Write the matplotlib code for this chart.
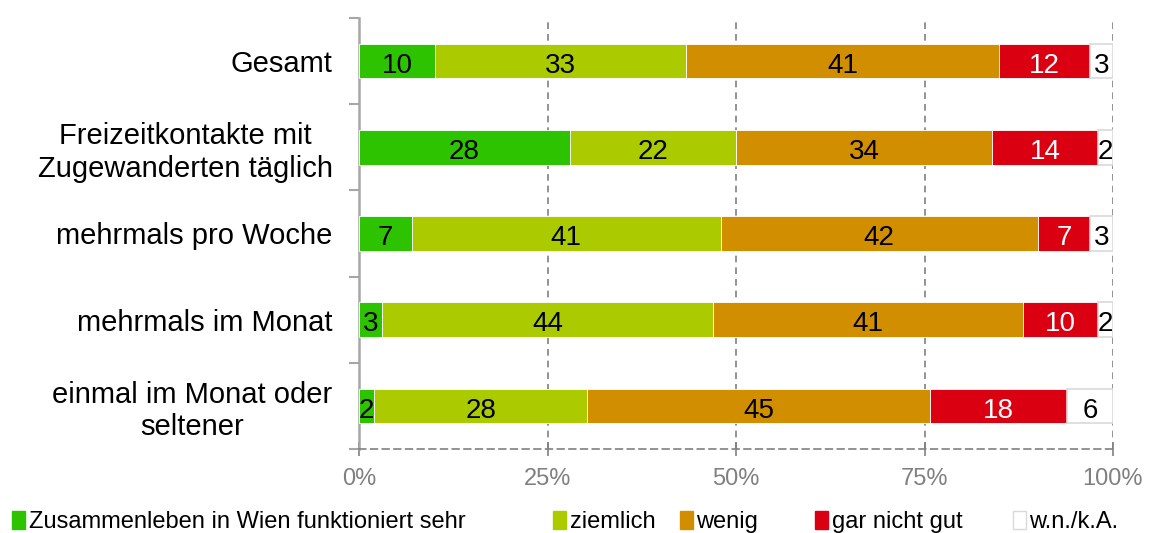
import matplotlib
matplotlib.use("Agg")
import matplotlib.pyplot as plt
from matplotlib.patches import Patch
from matplotlib.legend import Legend
import numpy as np

plt.rcParams['font.family'] = ['Liberation Sans', 'DejaVu Sans']

categories = ["Gesamt", "Freizeitkontakte mit\nZugewanderten täglich", "mehrmals pro Woche",
              "mehrmals im Monat", "einmal im Monat oder\nseltener"]
series_names = ["Zusammenleben in Wien funktioniert sehr", "ziemlich", "wenig", "gar nicht gut", "w.n./k.A."]
sehr = [10, 28, 7, 3, 2]
ziemlich = [33, 22, 41, 44, 28]
wenig = [41, 34, 42, 41, 45]
gar_nicht = [12, 14, 7, 10, 18]
wnka = [3, 2, 3, 2, 6]
xticklabels = ["0%", "25%", "50%", "75%", "100%"]

colors = ["#2DC300", "#ABCB00", "#D18F00", "#DB0011", "#FFFFFF"]
text_colors = ["black", "black", "black", "white", "black"]

data = np.array([sehr, ziemlich, wenig, gar_nicht, wnka], dtype=float)
totals = data.sum(axis=0)
shares = data / totals * 100

fig = plt.figure(figsize=(11.52, 5.33), dpi=100)
ax = fig.add_axes([359/1152, 1 - 449/533, (1113-359)/1152, (449-18)/533])

y = np.arange(len(categories))
left = np.zeros(len(categories))
handles = []
for i in range(len(series_names)):
    ec = "#D9D9D9" if i == 4 else "white"
    ax.barh(y, shares[i], left=left, height=0.4, color=colors[i],
            edgecolor=ec, linewidth=1.2 if i == 4 else 0.6, zorder=3)
    for j in range(len(categories)):
        ax.text(left[j] + shares[i][j] / 2, y[j] + 0.02, str(int(data[i][j])),
                ha="center", va="center_baseline", fontsize=20, color=text_colors[i], zorder=4)
    left += shares[i]
    handles.append(Patch(facecolor=colors[i], edgecolor="#D9D9D9" if i == 4 else colors[i],
                         label=series_names[i]))

ax.set_xlim(0, 100)
ax.set_ylim(len(categories) - 0.5, -0.5)
ax.set_yticks(y)
ax.set_yticklabels(categories, fontsize=21, ha="right", multialignment="center", linespacing=1.2)
ax.tick_params(axis="y", length=0, pad=19)
ax.set_yticks(np.arange(-0.5, len(categories), 1), minor=True)
ax.tick_params(axis="y", which="minor", length=7, width=1.5, color="#A6A6A6", direction="out")

ax.set_xticks([0, 25, 50, 75, 100])
ax.set_xticklabels(xticklabels, fontsize=17, color="#808080")
ax.tick_params(axis="x", length=10, width=1.2, color="#808080", direction="inout", pad=9)

for xv in [25, 50, 75, 100]:
    ax.axvline(xv, color="#808080", linestyle=(0, (4, 3)), linewidth=1.2, zorder=1)

for s in ["top", "right"]:
    ax.spines[s].set_visible(False)
ax.spines["left"].set_color("#A6A6A6")
ax.spines["left"].set_linewidth(1.8)
ax.spines["bottom"].set_color("#808080")
ax.spines["bottom"].set_linestyle((0, (4, 3)))
ax.spines["bottom"].set_linewidth(1.2)

legend_x = [12, 553, 680, 815, 1013]
for h, lx in zip(handles, legend_x):
    leg = Legend(fig, [h], [h.get_label()], loc="center left",
                 bbox_to_anchor=(lx / 1152, 1 - 522 / 533), bbox_transform=fig.transFigure,
                 frameon=False, fontsize=17, handlelength=0.55, handleheight=0.8,
                 handletextpad=0.15, borderpad=0.0, borderaxespad=0.0)
    fig.add_artist(leg)

fig.savefig("out.png", dpi=100)
